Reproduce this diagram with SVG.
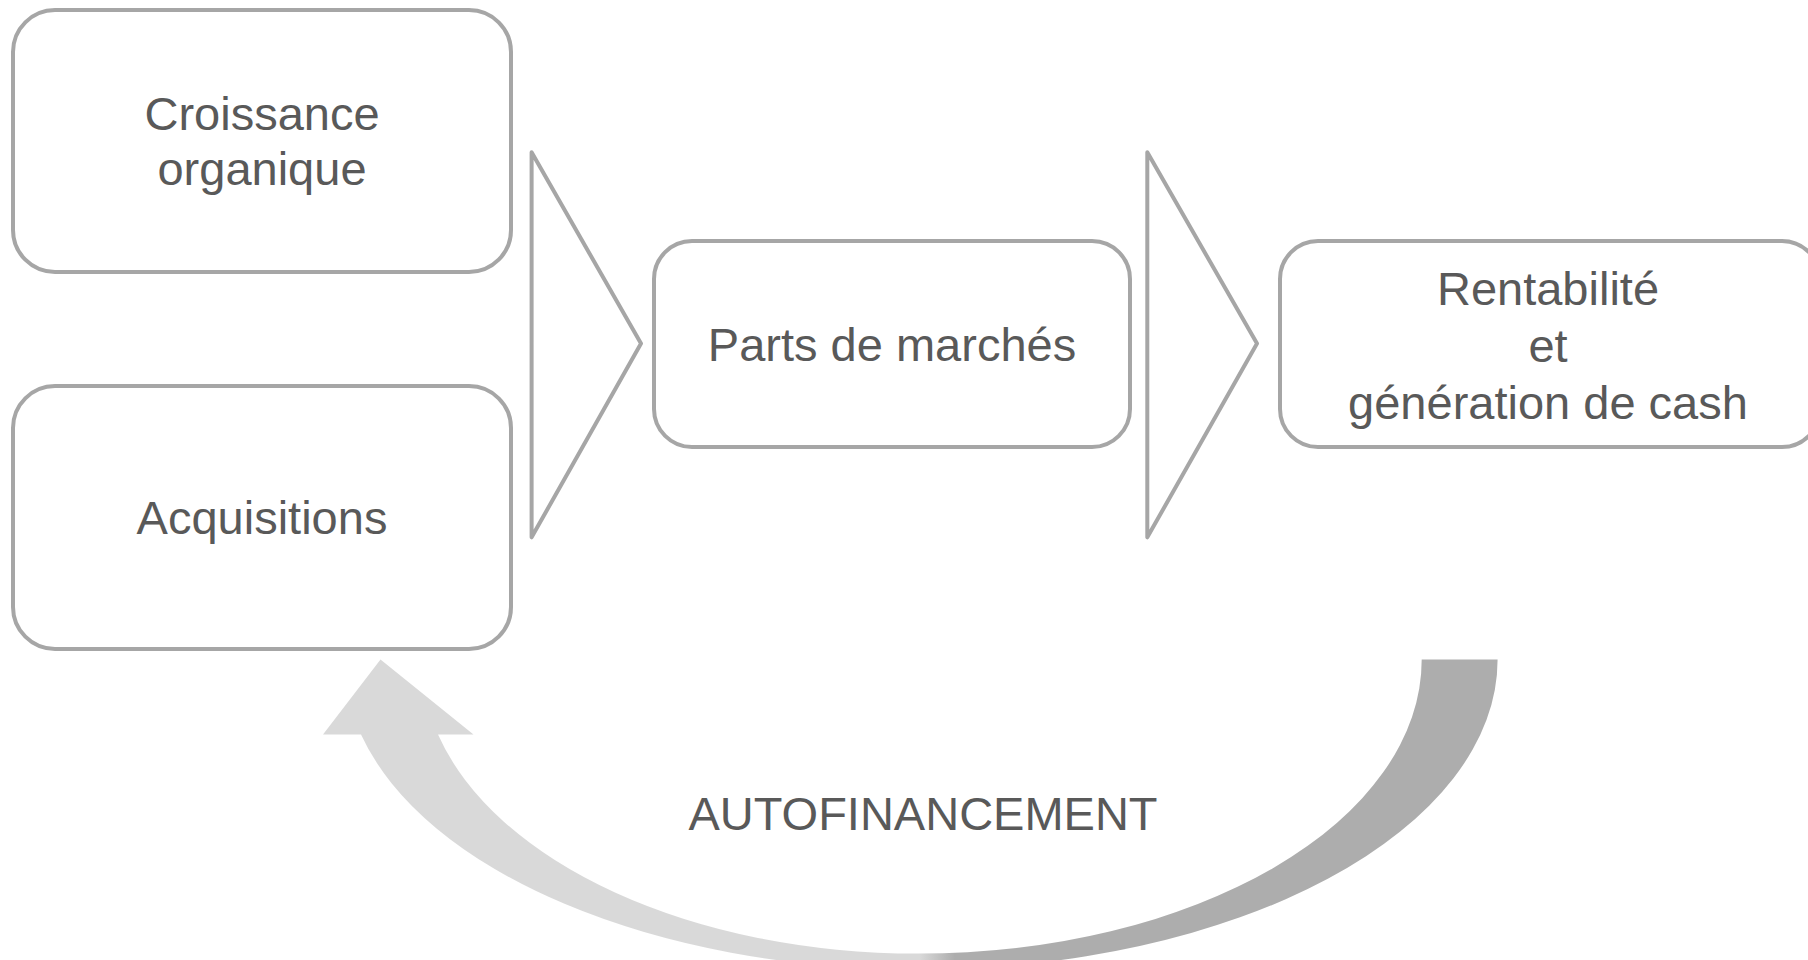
<svg xmlns="http://www.w3.org/2000/svg" width="1808" height="960" viewBox="0 0 1808 960">
<style>
.box{fill:#ffffff;stroke:#a6a6a6;stroke-width:4}
.chev{fill:#ffffff;stroke:#a6a6a6;stroke-width:4;stroke-linejoin:round}
.t{font-family:"Liberation Sans",Arial,sans-serif;font-size:47px;fill:#595959;text-anchor:middle}
</style>
<defs>
<linearGradient id="arrowFill" gradientUnits="userSpaceOnUse" x1="320" y1="0" x2="1500" y2="0">
<stop offset="0" stop-color="#d9d9d9"/>
<stop offset="0.508" stop-color="#d9d9d9"/>
<stop offset="0.538" stop-color="#adadad"/>
<stop offset="1" stop-color="#adadad"/>
</linearGradient>
</defs>
<rect width="1808" height="960" fill="#ffffff"/>
<g id="connectors">
<path id="autofinancement-arrow" fill="url(#arrowFill)" d="M 1421.7 659.6 L 1497.6 659.6 A 579.6 310 0 0 1 918 969.6 A 574 310 0 0 1 361 734.5 L 323 734.5 L 380.5 659.6 L 473.5 734.5 L 438 734.5 A 496.4 294 0 0 0 918 953.6 A 503.7 294 0 0 0 1421.7 659.6 Z"/>
<polygon id="chevron1" class="chev" points="531.6,152.2 641,343.6 531.6,537.3"/>
<polygon id="chevron2" class="chev" points="1147.3,152.2 1257,343.6 1147.3,537.3"/>
</g>
<g id="croissance">
<rect class="box" x="13" y="10" width="498" height="262" rx="42" ry="42"/>
<text class="t" x="262" y="130">Croissance</text>
<text class="t" x="262" y="185">organique</text>
</g>
<g id="acquisitions">
<rect class="box" x="13" y="386" width="498" height="263" rx="42" ry="42"/>
<text class="t" x="262" y="534">Acquisitions</text>
</g>
<g id="parts">
<rect class="box" x="654" y="241" width="476" height="206" rx="38" ry="38"/>
<text class="t" x="892" y="361">Parts de marchés</text>
</g>
<g id="rentabilite">
<rect class="box" x="1280" y="241" width="540" height="206" rx="38" ry="38"/>
<text class="t" x="1548" y="305">Rentabilité</text>
<text class="t" x="1548" y="362">et</text>
<text class="t" x="1548" y="419">génération de cash</text>
</g>
<g id="label">
<text class="t" x="923" y="830">AUTOFINANCEMENT</text>
</g>
</svg>
